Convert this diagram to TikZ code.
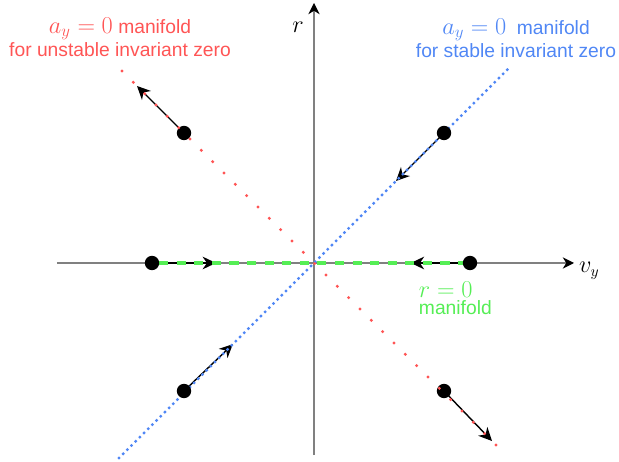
\documentclass[tikz,border=0pt]{standalone}
\usepackage{fontspec}
\usepackage{xcolor}
\usepackage{tikz}
\usetikzlibrary{arrows.meta, positioning}
\newfontfamily\lblfont{Liberation Sans}
\definecolor{unstab}{HTML}{FF5555}
\definecolor{stab}{HTML}{5087F5}
\definecolor{rzero}{HTML}{55EE55}
\definecolor{axisgray}{HTML}{808080}

\tikzset{
  axis/.style={draw=axisgray, line width=1pt, -{Stealth[length=8pt, width=8pt, inset=2.5pt, color=black]}},
  dot/.style={circle, fill=black, inner sep=0pt, minimum size=0.36cm},
  flow/.style={line width=1pt, -{Stealth[length=9.5pt, width=9pt, inset=3pt]}},
  lbl/.style={align=center, font=\lblfont\fontsize{13.7}{16.5}\selectfont},
}
\newcommand{\lblmath}[1]{{\fontsize{17}{17}\selectfont$#1$}}

\begin{document}
\begin{tikzpicture}
      \useasboundingbox (-7.85,-4.975) rectangle (7.625,6.575);
      % axes
      \coordinate (xl) at (-6.425,0);
      \coordinate (xr) at (6.5,0);
      \coordinate (yb) at (0,-4.8);
      \coordinate (yt) at (0,6.5);
      \draw[axis] (xl) -- (xr);
      \draw[axis] (yb) -- (yt);
      \node (rAx) at (-0.4,5.9) {\fontsize{16}{16}\selectfont$r$};
      \node (vAx) at (6.88,-0.2) {\fontsize{16}{16}\selectfont$v_y$};

      % starting points
      \coordinate (ul) at (-3.25,3.25);
      \coordinate (ur) at (3.25,3.25);
      \coordinate (ml) at (-4.05,0);
      \coordinate (mr) at (3.9,0);
      \coordinate (ll) at (-3.25,-3.2);
      \coordinate (lr) at (3.25,-3.2);

      % arrow tips
      \coordinate (ulT) at (-4.425,4.425);
      \coordinate (urT) at (2.05,2.05);
      \coordinate (mlT) at (-2.45,0);
      \coordinate (mrT) at (2.42,0);
      \coordinate (llT) at (-2.03,-2.03);
      \coordinate (lrT) at (4.45,-4.45);
      \foreach \a in {ul,ur,ml,mr,ll,lr}
        \draw[flow] (\a) -- (\a T);

      % manifolds
      \coordinate (sA) at (-4.875,-4.875);
      \coordinate (sB) at (4.9,4.9);
      \coordinate (uA) at (-4.8,4.8);
      \coordinate (uB) at (4.72,-4.72);
      \draw[stab, line width=2.4pt, line cap=round, dash pattern=on 0pt off 4.2pt] (sA) -- (sB);
      \draw[rzero, line width=2.2pt, dash pattern=on 6.5pt off 6pt] ([xshift=0.18cm]ml) -- ([xshift=-0.18cm]mr);
      \foreach \a in {ul,ur,ml,mr,ll,lr}
        \node[dot] (\a D) at (\a) {};
      \draw[unstab, line width=2.4pt, line cap=round, dash pattern=on 0pt off 11.4pt] (uA) -- (uB);

      \node[lbl, text=unstab] (uLbl) at (-4.85,5.65) {\lblmath{a_y=0} manifold\\for unstable invariant zero};
      \node[lbl, text=stab] (sLbl) at (5.05,5.62) {\lblmath{a_y=0}\ \ manifold\\for stable invariant zero};
      \node[lbl, text=rzero, align=left, anchor=west] (rLbl) at (2.5,-0.88) {\lblmath{r=0}\\[-4pt]manifold};
    \end{tikzpicture}
\end{document}
